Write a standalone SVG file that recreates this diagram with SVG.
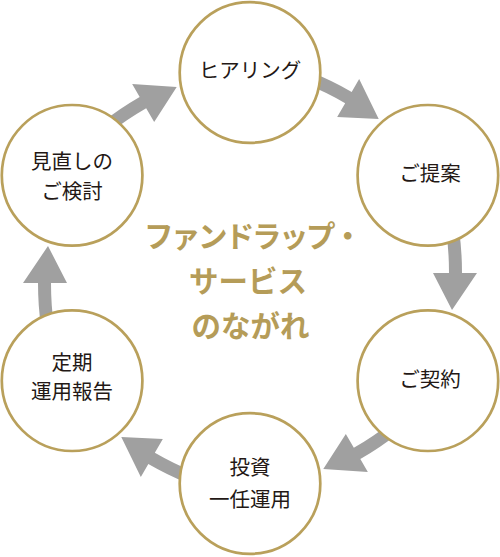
<svg xmlns="http://www.w3.org/2000/svg" xmlns:xlink="http://www.w3.org/1999/xlink" width="500" height="557" viewBox="0 0 500 557">
<style>
.node circle{fill:#fff;stroke:#b9a05b;stroke-width:2.7}
.lbl{font-family:"Noto Sans CJK JP","Noto Sans",sans-serif;font-size:20.5px;fill:#231815;text-anchor:middle}
.ttl{font-family:"Noto Sans CJK JP","Noto Sans",sans-serif;font-size:29.5px;font-weight:700;fill:#b59c58;text-anchor:middle}
.arr{fill:#a0a0a0}
</style>
<defs>
<path id="arrow" d="M446,230 L459,230 Q462,250 462,273 L477,273 L452,310 L433,273 L449,273 Q449,250 446,230 Z"/>
</defs>
<rect width="500" height="557" fill="#fff"/>
<g id="connectors" class="arr">
<use href="#arrow" xlink:href="#arrow" transform="rotate(-60 250 278)"/>
<use href="#arrow" xlink:href="#arrow"/>
<use href="#arrow" xlink:href="#arrow" transform="rotate(60 250 278)"/>
<use href="#arrow" xlink:href="#arrow" transform="rotate(120 250 278)"/>
<use href="#arrow" xlink:href="#arrow" transform="rotate(180 250 278)"/>
<use href="#arrow" xlink:href="#arrow" transform="rotate(240 250 278)"/>
</g>
<g id="hearing" class="node"><circle cx="250" cy="72.5" r="70.3"/><text class="lbl" x="250" y="78">ヒアリング</text></g>
<g id="proposal" class="node"><circle cx="427.9" cy="175.3" r="70.3"/><text class="lbl" x="430" y="181">ご提案</text></g>
<g id="contract" class="node"><circle cx="427.9" cy="380.7" r="70.3"/><text class="lbl" x="430" y="387">ご契約</text></g>
<g id="management" class="node"><circle cx="250" cy="483.5" r="70.3"/><text class="lbl" x="250" y="475">投資</text><text class="lbl" x="250" y="506.5">一任運用</text></g>
<g id="report" class="node"><circle cx="72.1" cy="380.7" r="70.3"/><text class="lbl" x="72" y="369.5">定期</text><text class="lbl" x="72" y="399">運用報告</text></g>
<g id="review" class="node"><circle cx="72.1" cy="175.3" r="70.3"/><text class="lbl" x="72" y="169">見直しの</text><text class="lbl" x="72" y="199">ご検討</text></g>
<g id="title"><text class="ttl" x="252" y="246.5" letter-spacing="-2.5">ファンドラップ・</text><text class="ttl" x="248" y="291.5">サービス</text><text class="ttl" x="250.5" y="337">のながれ</text></g>
</svg>
